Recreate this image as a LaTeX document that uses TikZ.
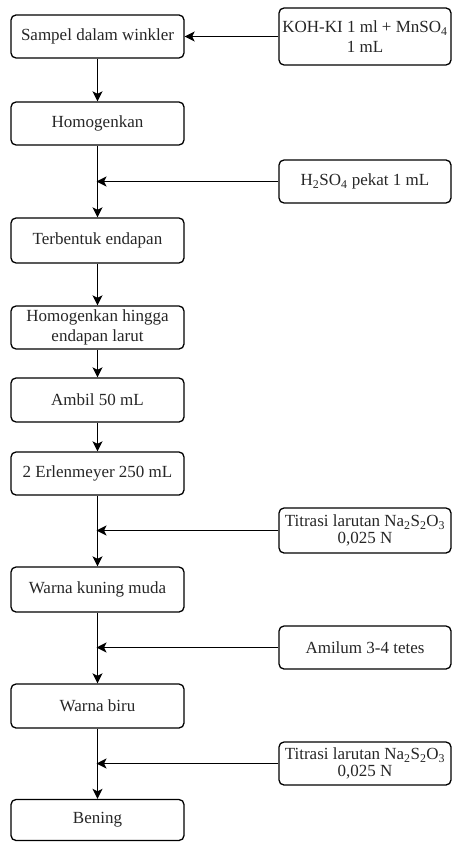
\documentclass[tikz,border=0pt]{standalone}
\usepackage{fontspec}
\setmainfont{Liberation Serif}
\newfontfamily\tnr{Liberation Serif}
\usetikzlibrary{arrows.meta}
\tikzset{
  box/.style={draw=black, line width=1.3pt, rounded corners=5pt, align=center,
    inner sep=0pt, font=\tnr\fontsize{17}{19.5}\selectfont, text=black!85},
  lbox/.style={box, minimum width=173pt},
  rbox/.style={box, minimum width=172pt},
  conn/.style={draw=black, line width=1.4pt, -{Stealth[length=10pt,width=10pt,inset=2.5pt]}},
}
\begin{document}
\begin{tikzpicture}[x=1pt,y=-1pt]
\useasboundingbox (0,0) rectangle (452,842);
% left column
\node[lbox, minimum height=43pt] (b1) at (97.5,36.5) {Sampel dalam winkler};
\node[lbox, minimum height=43pt] (b2) at (97.5,123.5) {Homogenkan};
\node[lbox, minimum height=45pt] (b3) at (97.5,240.5) {Terbentuk endapan};
\node[lbox, minimum height=43pt] (b4) at (97.5,327.5) {Homogenkan hingga\\endapan larut};
\node[lbox, minimum height=44pt] (b5) at (97.5,400) {Ambil 50 mL};
\node[lbox, minimum height=43pt] (b6) at (97.5,473.5) {2 Erlenmeyer 250 mL};
\node[lbox, minimum height=45pt] (b7) at (97.5,589.5) {Warna kuning muda};
\node[lbox, minimum height=44pt] (b8) at (97.5,706) {Warna biru};
\node[lbox, minimum height=41pt] (b9) at (97.5,820) {Bening};
% right column
\node[rbox, minimum height=57pt] (r1) at (365,36.5) {KOH-KI 1 ml + MnSO\textsubscript{4}\\1 mL};
\node[rbox, minimum height=43pt] (r2) at (365,181.5) {H\textsubscript{2}SO\textsubscript{4} pekat 1 mL};
\node[rbox, minimum height=45pt] (r3) at (365,530.5) {Titrasi larutan Na\textsubscript{2}S\textsubscript{2}O\textsubscript{3}\\[-3pt]0,025 N};
\node[rbox, minimum height=43pt] (r4) at (365,647.5) {Amilum 3-4 tetes};
\node[rbox, minimum height=43pt] (r5) at (365,763.5) {Titrasi larutan Na\textsubscript{2}S\textsubscript{2}O\textsubscript{3}\\[-3pt]0,025 N};
% junction points
\coordinate (j2) at (b2.south |- r2.west);
\coordinate (j3) at (b6.south |- r3.west);
\coordinate (j4) at (b7.south |- r4.west);
\coordinate (j5) at (b8.south |- r5.west);
% vertical connectors
\draw[conn] (b1) -- (b2);
\draw[conn] (b2) -- (b3);
\draw[conn] (b3) -- (b4);
\draw[conn] (b4) -- (b5);
\draw[conn] (b5) -- (b6);
\draw[conn] (b6) -- (b7);
\draw[conn] (b7) -- (b8);
\draw[conn] (b8) -- (b9);
% horizontal connectors
\draw[conn] (r1.west) -- (b1.east);
\draw[conn, shorten >=-1pt] (r2.west) -- (j2);
\draw[conn, shorten >=-1pt] (r3.west) -- (j3);
\draw[conn, shorten >=-1pt] (r4.west) -- (j4);
\draw[conn, shorten >=-1pt] (r5.west) -- (j5);
\end{tikzpicture}
\end{document}
